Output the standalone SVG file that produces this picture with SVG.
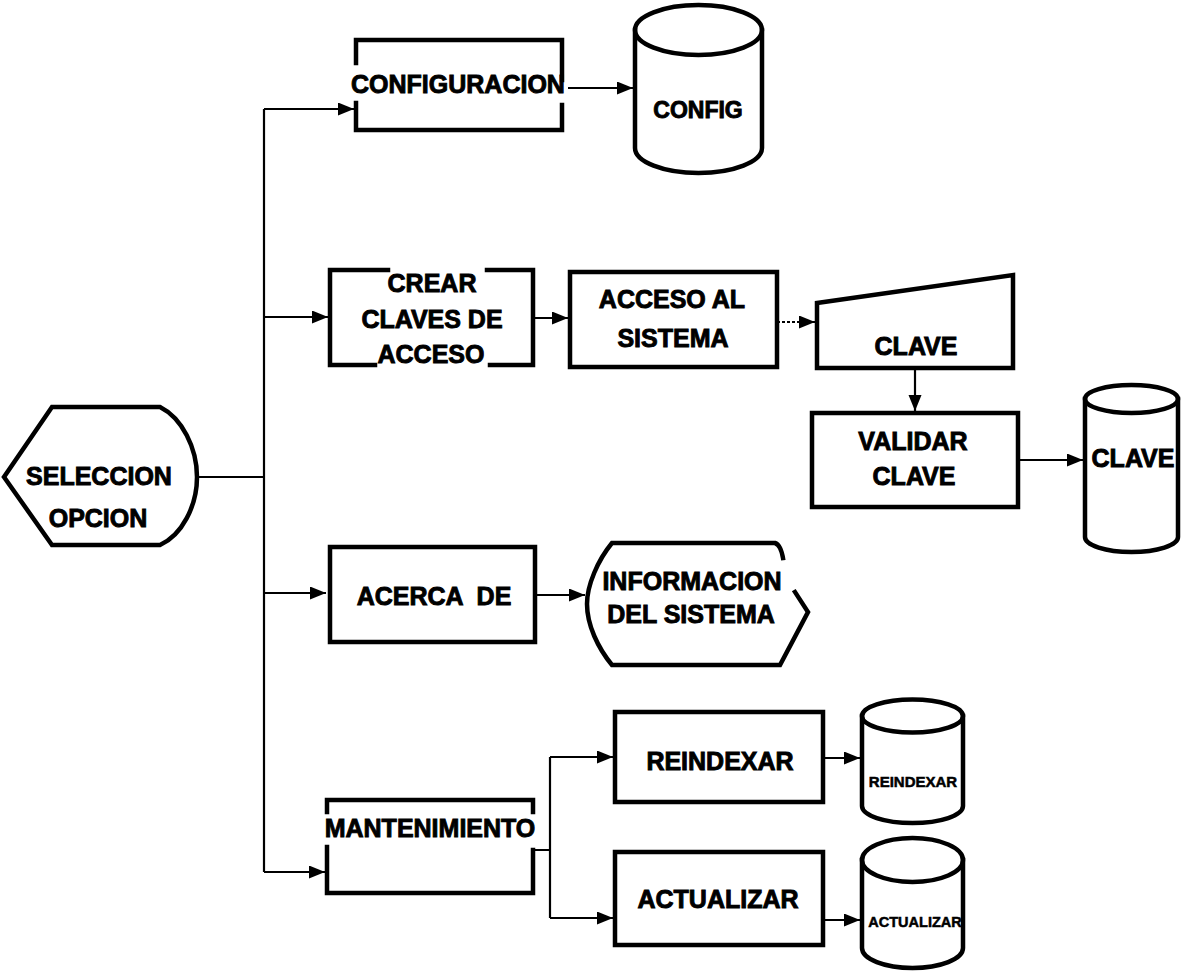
<svg xmlns="http://www.w3.org/2000/svg" width="1187" height="975" viewBox="0 0 1187 975">
<style>
.sh{fill:none;stroke:#000;stroke-width:4.5;stroke-linejoin:miter;stroke-linecap:square}
.t{font-family:"Liberation Sans",Arial,sans-serif;font-weight:bold;font-size:25px;fill:#000;stroke:#000;stroke-width:0.9;text-anchor:middle}
.s{font-size:15px;stroke-width:0.5}
.c{fill:none;stroke:#000;stroke-width:2.2}
.d{stroke-dasharray:3 2}
</style>
<defs>
<marker id="ah" markerUnits="userSpaceOnUse" markerWidth="18" markerHeight="14" refX="16" refY="6.5" orient="auto">
<path d="M0,0 L16,6.5 L0,13 Z" fill="#000"/>
</marker>
</defs>
<rect width="1187" height="975" fill="#fff"/>

<g id="connectors">
<path class="c" d="M197,477 H264"/>
<path class="c" d="M264,109 V872"/>
<path class="c" d="M264,109 H354" marker-end="url(#ah)"/>
<path class="c" d="M264,317 H328" marker-end="url(#ah)"/>
<path class="c" d="M264,593 H326" marker-end="url(#ah)"/>
<path class="c" d="M264,872 H325" marker-end="url(#ah)"/>
<path class="c" d="M568,88 H633" marker-end="url(#ah)"/>
<path class="c" d="M533,318 H568" marker-end="url(#ah)"/>
<path class="c d" d="M777,322 H815" marker-end="url(#ah)"/>
<path class="c" d="M915,368 V411" marker-end="url(#ah)"/>
<path class="c" d="M1018,460 H1083" marker-end="url(#ah)"/>
<path class="c" d="M535,595 H585" marker-end="url(#ah)"/>
<path class="c" d="M533,850 H550 M550,757 V918"/>
<path class="c" d="M550,757 H613" marker-end="url(#ah)"/>
<path class="c" d="M550,918 H613" marker-end="url(#ah)"/>
<path class="c" d="M823,758 H860" marker-end="url(#ah)"/>
<path class="c" d="M823,920 H860" marker-end="url(#ah)"/>
</g>

<g id="seleccion">
<path class="sh" d="M52,407 L160,407 C182,418 197,448 197,477 C197,506 182,535 160,545 L52,545 L4,477 Z"/>
<text class="t" x="99" y="485">SELECCION</text>
<text class="t" x="98" y="527">OPCION</text>
</g>

<g id="configuracion">
<path class="sh" d="M356,63 V40 H562 V80 M356,103 V130 H562 V105"/>
<text class="t" x="458" y="93">CONFIGURACION</text>
</g>

<g id="config-db">
<path class="sh" d="M635,30 V148 A63.5,25 0 0 0 762,148 V30"/>
<ellipse class="sh" cx="698.5" cy="30" rx="63.5" ry="25"/>
<text class="t" x="698" y="118" style="font-size:23px">CONFIG</text>
</g>

<g id="crear-claves">
<path class="sh" d="M388,270 H330 V365 H375 M487,270 H533 V365 H490"/>
<text class="t" x="432" y="292">CREAR</text>
<text class="t" x="432" y="328">CLAVES DE</text>
<text class="t" x="431" y="363">ACCESO</text>
</g>

<g id="acceso-sistema">
<rect class="sh" x="570" y="272" width="207" height="95"/>
<text class="t" x="672" y="308">ACCESO AL</text>
<text class="t" x="673" y="347">SISTEMA</text>
</g>

<g id="clave-input">
<path class="sh" d="M817,303 L1013,275 L1013,368 L817,368 Z"/>
<text class="t" x="916" y="355">CLAVE</text>
</g>

<g id="validar-clave">
<rect class="sh" x="812" y="413" width="206" height="94"/>
<text class="t" x="913" y="450">VALIDAR</text>
<text class="t" x="914" y="485">CLAVE</text>
</g>

<g id="clave-db">
<path class="sh" d="M1085,399 V537 A46.5,15 0 0 0 1178,537 V399"/>
<ellipse class="sh" cx="1131.5" cy="399" rx="46.5" ry="14"/>
<text class="t" x="1133" y="467">CLAVE</text>
</g>

<g id="acerca-de">
<rect class="sh" x="330" y="547" width="205" height="95"/>
<text class="t" x="434" y="605" xml:space="preserve">ACERCA  DE</text>
</g>

<g id="informacion">
<path class="sh" d="M783,558 Q781,545 775,543 L612,543 C598,560 587,585 587,604 C587,625 598,648 612,665 L780,665 L808,612 L795,592"/>
<text class="t" x="692" y="590">INFORMACION</text>
<text class="t" x="691" y="623">DEL SISTEMA</text>
</g>

<g id="mantenimiento">
<path class="sh" d="M327,812 V800 H533 V812 M327,847 V893 H533 V850"/>
<text class="t" x="430" y="837">MANTENIMIENTO</text>
</g>

<g id="reindexar">
<rect class="sh" x="615" y="712" width="208" height="90"/>
<text class="t" x="720" y="770">REINDEXAR</text>
</g>

<g id="reindexar-db">
<path class="sh" d="M862,716 V806 A50.5,17 0 0 0 963,806 V716"/>
<ellipse class="sh" cx="912.5" cy="716" rx="50.5" ry="16.5"/>
<text class="t s" x="913" y="787">REINDEXAR</text>
</g>

<g id="actualizar">
<rect class="sh" x="615" y="852" width="208" height="93"/>
<text class="t" x="718" y="908">ACTUALIZAR</text>
</g>

<g id="actualizar-db">
<path class="sh" d="M862,860 V948 A50.5,20 0 0 0 963,948 V860"/>
<ellipse class="sh" cx="912.5" cy="860" rx="50.5" ry="22"/>
<text class="t s" x="915" y="927" style="font-size:14.5px">ACTUALIZAR</text>
</g>
</svg>
